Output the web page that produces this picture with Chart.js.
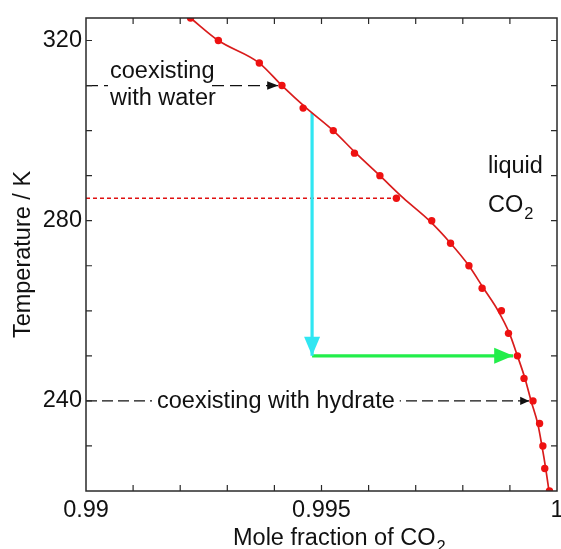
<!DOCTYPE html>
<html>
<head>
<meta charset="utf-8">
<script src="https://cdn.jsdelivr.net/npm/chart.js@4.4.1/dist/chart.umd.min.js"></script>
<style>
	html, body { margin: 0; padding: 0; background: #fff; overflow: hidden; }
	#wrap { width: 561px; height: 549px; }
</style>
</head>
<body>
<div id="wrap"><canvas id="chart" width="561" height="549"></canvas></div>
<script>
// measured points (mole fraction of CO2 vs temperature)
const dotX = [0.99222, 0.99281, 0.99368, 0.99416, 0.99461, 0.99525, 0.99570, 0.99624, 0.99659, 0.99734, 0.99774,
	0.99813, 0.99841, 0.99882, 0.99897, 0.99916, 0.99930, 0.99949, 0.99963, 0.99970, 0.99974, 0.99984];
const dotT = [325, 320, 315, 310, 305, 300, 295, 290, 285, 280, 275, 270, 265, 260, 255, 250, 245, 240, 235, 230, 225, 220];

// fitted curve
const curveX = [0.99222, 0.99281, 0.99368, 0.99416, 0.99468, 0.99525, 0.99573, 0.99624, 0.99674, 0.99729, 0.99774,
	0.99813, 0.99844, 0.99875, 0.99899, 0.99916, 0.99932, 0.99945, 0.99959, 0.99968, 0.99976, 0.99983];
const curveT = [325, 320, 315, 310, 305, 300, 295, 290, 285, 280, 275, 270, 265, 260, 255, 250, 245, 240, 235, 230, 225, 220];

// annotation lines: [x start, x end], [T start, T end]
const coolX = [0.9948, 0.9948];
const coolT = [303.9, 250];
const dissolveX = [0.9948, 0.99907];
const dissolveT = [250, 250];
const waterX = [0.99, 0.99408];
const waterT = [310, 310];
const hydrateX = [0.99, 0.99941];
const hydrateT = [240, 240];
const markX = [0.99, 0.99659];
const markT = [285, 285];

// axes
const xMin = 0.99, xMax = 1.0;
const yMin = 220, yMax = 325;
const xTickValues = [0.99, 0.995, 1.0];
const yTickValues = [240, 280, 320];
const xMinorTicks = [0.991, 0.992, 0.993, 0.994, 0.995, 0.996, 0.997, 0.998, 0.999];
const yMinorTicks = [230, 240, 250, 260, 270, 280, 290, 300, 310, 320];

const FONT = "'Liberation Sans', Arial, Helvetica, sans-serif";
const FS = 23.5;

function pts(xs, ys) {
	return xs.map(function(x, i) { return {x: x, y: ys[i]}; });
}

function lineSet(xs, ys, color, width, dash, arrow) {
	return {
		data: pts(xs, ys),
		borderColor: color,
		backgroundColor: color,
		borderWidth: width,
		borderDash: dash || [],
		pointRadius: 0,
		showLine: true,
		fill: false,
		arrow: arrow || null
	};
}

// frame, inward ticks, arrow heads and text labels
const decorations = {
	id: "decorations",
	afterDatasetsDraw: function(chart) {
		const ctx = chart.ctx;
		const xs = chart.scales.x, ys = chart.scales.y;
		const a = chart.chartArea;

		// arrow heads at the end of flagged datasets
		chart.data.datasets.forEach(function(ds) {
			if (!ds.arrow) return;
			const n = ds.data.length;
			const p1 = ds.data[n - 2], p2 = ds.data[n - 1];
			const x1 = xs.getPixelForValue(p1.x), y1 = ys.getPixelForValue(p1.y);
			const x2 = xs.getPixelForValue(p2.x), y2 = ys.getPixelForValue(p2.y);
			const ang = Math.atan2(y2 - y1, x2 - x1);
			ctx.save();
			ctx.translate(x2, y2);
			ctx.rotate(ang);
			ctx.fillStyle = ds.borderColor;
			ctx.beginPath();
			ctx.moveTo(0, 0);
			ctx.lineTo(-ds.arrow[0], -ds.arrow[1]);
			ctx.lineTo(-ds.arrow[0], ds.arrow[1]);
			ctx.closePath();
			ctx.fill();
			ctx.restore();
		});

		ctx.save();
		ctx.fillStyle = "#111";
		ctx.font = FS + "px " + FONT;
		ctx.textBaseline = "alphabetic";
		ctx.textAlign = "left";

		// labels sitting on the dashed lines get a white box
		const yw = ys.getPixelForValue(310);
		ctx.fillStyle = "#fff";
		ctx.fillRect(108, yw - 4, 104, 8);
		ctx.fillStyle = "#111";
		ctx.fillText("coexisting", 110, 78);
		ctx.fillText("with water", 110, 105);

		const yh = ys.getPixelForValue(240);
		const hText = "coexisting with hydrate";
		const hw = ctx.measureText(hText).width;
		ctx.fillStyle = "#fff";
		ctx.fillRect(152, yh - 12, hw + 10, 24);
		ctx.fillStyle = "#111";
		ctx.fillText(hText, 157, yh + 7);

		// liquid CO2
		ctx.fillText("liquid", 488, 173);
		ctx.fillText("CO", 488, 212);
		const coW = ctx.measureText("CO").width;
		ctx.font = (FS * 0.7) + "px " + FONT;
		ctx.fillText("2", 488 + coW + 1, 219);

		// axis titles
		ctx.font = FS + "px " + FONT;
		ctx.fillText("Mole fraction of CO", 233, 545);
		const mW = ctx.measureText("Mole fraction of CO").width;
		ctx.font = (FS * 0.7) + "px " + FONT;
		ctx.fillText("2", 233 + mW + 1, 552);

		ctx.font = FS + "px " + FONT;
		ctx.translate(30, (a.top + a.bottom) / 2);
		ctx.rotate(-Math.PI / 2);
		ctx.textAlign = "center";
		ctx.fillText("Temperature / K", 0, 0);
		ctx.restore();

		// frame with inward ticks
		ctx.save();
		ctx.strokeStyle = "#2a2a2a";
		ctx.lineWidth = 1.5;
		ctx.strokeRect(a.left, a.top, a.right - a.left, a.bottom - a.top);
		ctx.lineWidth = 1.2;
		ctx.beginPath();
		xMinorTicks.forEach(function(v) {
			const px = xs.getPixelForValue(v);
			ctx.moveTo(px, a.bottom); ctx.lineTo(px, a.bottom - 6);
			ctx.moveTo(px, a.top); ctx.lineTo(px, a.top + 6);
		});
		yMinorTicks.forEach(function(v) {
			const py = ys.getPixelForValue(v);
			ctx.moveTo(a.left, py); ctx.lineTo(a.left + 6, py);
			ctx.moveTo(a.right, py); ctx.lineTo(a.right - 6, py);
		});
		ctx.stroke();
		ctx.restore();
	}
};

new Chart(document.getElementById("chart"), {
	type: "scatter",
	data: {
		datasets: [
			{
				data: pts(dotX, dotT),
				backgroundColor: "#ee1111",
				borderColor: "#ee1111",
				pointRadius: 3.7,
				pointBorderWidth: 0,
				showLine: false
			},
			Object.assign(lineSet(curveX, curveT, "#d91c1c", 1.7), {cubicInterpolationMode: "monotone"}),
			lineSet(coolX, coolT, "#30e6f2", 3.2, null, [19, 8]),
			lineSet(dissolveX, dissolveT, "#22ee4a", 3.2, null, [19, 8]),
			lineSet(markX, markT, "#e01010", 1.4, [4, 3]),
			lineSet(waterX, waterT, "#111", 1.3, [12, 6], [11, 4.2]),
			lineSet(hydrateX, hydrateT, "#111", 1.3, [11, 5], [9, 4.2])
		]
	},
	options: {
		responsive: false,
		animation: false,
		devicePixelRatio: 1,
		layout: { padding: { top: 18, right: 2, left: 0, bottom: 0 } },
		plugins: {
			legend: { display: false },
			tooltip: { enabled: false }
		},
		scales: {
			x: {
				type: "linear",
				min: xMin,
				max: xMax,
				grid: { display: false, drawTicks: false },
				border: { display: false },
				afterBuildTicks: function(s) { s.ticks = xTickValues.map(function(v) { return {value: v}; }); },
				afterFit: function(s) { s.height = 58; s.paddingLeft = 0; s.paddingRight = 0; },
				ticks: {
					padding: 5,
					color: "#111",
					font: { family: FONT, size: FS },
					maxRotation: 0,
					callback: function(v) { return String(Number(v.toFixed(4))); }
				}
			},
			y: {
				type: "linear",
				min: yMin,
				max: yMax,
				grid: { display: false, drawTicks: false },
				border: { display: false },
				afterBuildTicks: function(s) { s.ticks = yTickValues.map(function(v) { return {value: v}; }); },
				afterFit: function(s) { s.width = 86; s.paddingTop = 0; s.paddingBottom = 0; },
				ticks: {
					padding: 4,
					color: "#111",
					font: { family: FONT, size: FS }
				}
			}
		}
	},
	plugins: [decorations]
});
</script>
</body>
</html>
